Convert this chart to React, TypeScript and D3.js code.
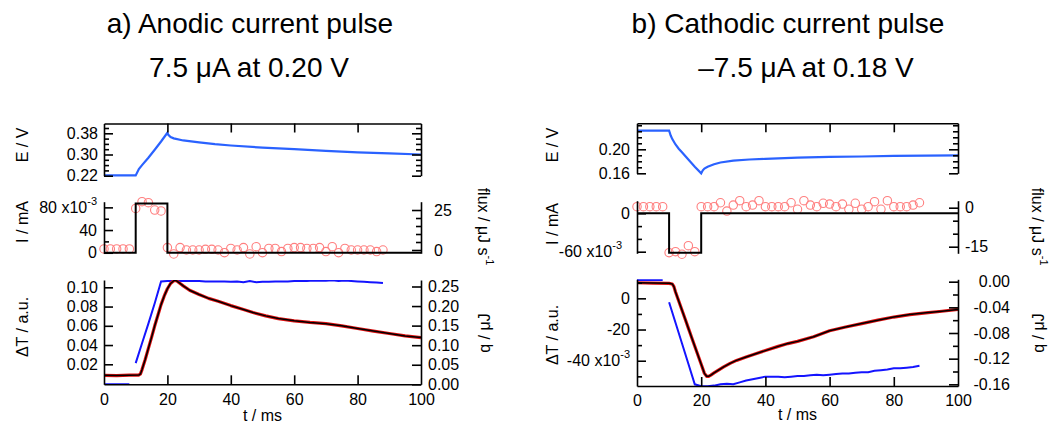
import React, { useEffect, useRef } from "react";
import * as d3 from "d3";

const WIDTH = 1051;
const HEIGHT = 425;
const FONT = "'Liberation Sans', Arial, Helvetica, sans-serif";

// ---------------- texts ----------------
const titleA = "a) Anodic current pulse";
const subtitleA = "7.5 μA at 0.20 V";
const titleB = "b) Cathodic current pulse";
const subtitleB = "–7.5 μA at 0.18 V";
const xLabel = "t / ms";
const eLabel = "E / V";
const iLabel = "I / mA";
const dTLabel = "ΔT / a.u.";
const fluxLabel = "flux / μJ s";
const fluxSup = "-1";
const qLabel = "q / μJ";
const expPrefix = " x10";
const expSup = "-3";

// ---------------- ticks ----------------
const timeTicks = [0, 20, 40, 60, 80, 100];
const timeInnerTicks = [20, 40, 60, 80];

const eTicksA = [0.22, 0.3, 0.38];
const eMinorA = [0.24, 0.26, 0.28, 0.32, 0.34, 0.36, 0.4];
const iTicksA = [0, 40, 80];
const iMinorA = [20, 60];
const fluxTicksA = [0, 25];
const fluxMinorA = [5, 10, 15, 20];
const dTTicksA = [0.02, 0.04, 0.06, 0.08, 0.1];
const qTicksA = [0, 0.05, 0.1, 0.15, 0.2, 0.25];

const eTicksB = [0.16, 0.2];
const eMinorB = [0.17, 0.18, 0.19, 0.21, 0.22, 0.23, 0.24];
const iTicksB = [-60, 0];
const iMinorB = [-40, -20];
const fluxTicksB = [-15, 0];
const fluxMinorB = [-10, -5];
const dTTicksB = [-40, -20, 0];
const dTMinorB = [-50, -30, -10, 10];
const qTicksB = [-0.16, -0.12, -0.08, -0.04, 0];
const qMinorB = [-0.14, -0.1, -0.06, -0.02];

// ---------------- data: panel a (anodic) ----------------
const tEa = [0, 10, 11, 12, 14, 16, 18, 20, 20.3, 21, 22, 25, 30, 35, 40, 50, 60, 70, 80, 90, 100];
const Ea = [0.221, 0.221, 0.245, 0.26, 0.288, 0.318, 0.349, 0.382, 0.374, 0.366, 0.361, 0.353, 0.346, 0.339, 0.334, 0.326, 0.32, 0.314, 0.308, 0.304, 0.3];

const tIa = [0, 10, 20, 100];
const Ia = [0, 87, 0, 0]; // x10^-3 mA

const tFlux = [0, 2, 4, 6, 8, 10, 12, 14, 16, 18, 20, 22, 24, 26, 28, 30, 32, 34, 36, 38, 40, 42, 44, 46, 48, 50, 52, 54, 56, 58, 60, 62, 64, 66, 68, 70, 72, 74, 76, 78, 80, 82, 84, 86, 88];
const fluxA = [0.7, 0.7, 0.7, 0.7, 0.7, 26, 30.2, 29.6, 25, 24.4, 1.5, -2.5, 1.5, 0, 0, 0, 0.4, 0.4, 0, -1.7, 1.0, 0, 1.5, -2.5, 2.1, -1.7, 1.0, 1.0, -1.0, 1.0, 1.5, 1.5, 1.0, 1.0, 1.5, -1.0, 2.1, -1.7, 1.0, 0, 0, 0, 0, -1.0, 0];

const tDa = [0, 4, 8, 11, 11.5, 12, 13, 14, 15, 16, 17, 18, 19, 20, 21, 22, 22.5, 23, 24, 25, 27, 30, 33, 36, 40, 44, 47, 51, 55, 60, 65, 70, 75, 80, 85, 90, 95, 100];
const dTa = [0.0085, 0.0083, 0.0087, 0.0088, 0.01, 0.0145, 0.025, 0.0365, 0.048, 0.06, 0.071, 0.082, 0.091, 0.0985, 0.104, 0.1068, 0.1072, 0.1065, 0.104, 0.1015, 0.097, 0.0925, 0.0885, 0.0855, 0.081, 0.077, 0.0738, 0.0703, 0.0675, 0.0652, 0.0635, 0.0622, 0.06, 0.0572, 0.0545, 0.052, 0.0495, 0.0478];

const tQ = [0, 8, 9, 10, 12, 14, 16, 18, 20, 22, 24, 26, 28, 30, 32, 34, 36, 38, 40, 42, 44, 46, 48, 50, 52, 54, 56, 58, 60, 62, 64, 66, 68, 70, 72, 74, 76, 78, 80, 82, 84, 86, 88];
const qA: (number | null)[] = [0, 0, null, 0.054, 0.105, 0.155, 0.207, 0.263, 0.264, 0.264, 0.264, 0.264, 0.264, 0.264, 0.263, 0.263, 0.263, 0.263, 0.262, 0.263, 0.261, 0.264, 0.261, 0.262, 0.262, 0.263, 0.263, 0.263, 0.264, 0.264, 0.264, 0.265, 0.265, 0.265, 0.266, 0.264, 0.265, 0.264, 0.263, 0.262, 0.261, 0.26, 0.259];

// ---------------- data: panel b (cathodic) ----------------
const tEb = [0, 10, 10.5, 11, 12, 13, 14, 16, 18, 20, 20.5, 21, 22, 24, 26, 30, 35, 40, 50, 60, 70, 80, 90, 100];
const Eb = [0.231, 0.231, 0.223, 0.217, 0.208, 0.201, 0.195, 0.183, 0.171, 0.16, 0.165, 0.168, 0.171, 0.175, 0.178, 0.181, 0.183, 0.184, 0.186, 0.1875, 0.188, 0.189, 0.1895, 0.19];

const tIb = [0, 10, 20, 100];
const Ib = [0, -61.5, 0, 0]; // x10^-3 mA

const fluxB = [0.4, 0.4, 0.4, 0.4, 0.4, -17.3, -16.9, -17.9, -14.6, -16.9, 0.4, 0.4, 0.4, 1.9, -1.3, 1.0, 2.7, 0.4, 1.0, 2.7, 0.4, 0.4, 0.4, 0.4, 1.9, -0.6, 2.7, 1.0, 0.4, 1.7, 1.4, 0.4, 1.4, -0.6, 1.7, -0.6, 0.4, 2.3, -0.6, 2.7, 0.4, 0.4, 0.4, 1.0, 1.9];

const tDb = [0, 5, 10, 11, 11.5, 12, 13, 14, 15, 16, 17, 18, 19, 20, 21, 21.7, 22.3, 23, 24, 25, 27, 29, 31, 34, 37, 40, 44, 47, 50, 55, 60, 65, 70, 75, 80, 85, 90, 95, 100];
const dTb = [10, 9.8, 9.6, 9.2, 7.5, 4.1, -1.7, -7.5, -13.3, -19.1, -24.9, -30.7, -36.5, -42.3, -48.1, -50, -50, -49.2, -47.8, -46.5, -44, -41.7, -39.8, -37.6, -35.5, -33.5, -30.8, -29, -27.6, -24.6, -20.8, -18.4, -16.2, -14, -12, -10.4, -9.3, -8.3, -7.1]; // x10^-3

const qB: (number | null)[] = [0.0025, 0.0025, null, -0.032, -0.064, -0.096, -0.128, -0.16, -0.163, -0.163, -0.162, -0.16, -0.159, -0.16, -0.157, -0.154, -0.152, -0.15, -0.148, -0.148, -0.148, -0.149, -0.148, -0.147, -0.147, -0.146, -0.145, -0.146, -0.145, -0.144, -0.143, -0.143, -0.142, -0.141, -0.141, -0.139, -0.138, -0.137, -0.135, -0.135, -0.134, -0.133, -0.131];

// ---------------- colors ----------------
const COL_E = "#2a62ff";
const COL_Q = "#1414ff";
const COL_FLUX = "#ff7f7f";
const COL_RAW = "#e01010";

const fmt2 = (d: number) => d.toFixed(2);
const fmtInt = (d: number) => String(d);

type Panel = any;

const panelA: Panel = {
  id: "a",
  x0: 104, x1: 421,
  title: titleA, titleX: 250, sub: subtitleA, subX: 249,
  tE: tEa, E: Ea, eRange: [175.7, 123.5], eDomain: [0.22, 0.417], eTicks: eTicksA, eMinor: eMinorA, eFmt: fmt2, ePad: 6,
  tI: tIa, I: Ia, iRange: [253.3, 201.7], iDomain: [-1, 90], iTicks: iTicksA, iMinor: iMinorA, iPad: 7, iExpTick: 80, iExpDx: 0,
  flux: fluxA, fluxDomain: [-2.06, 30.2], fluxTicks: fluxTicksA, fluxMinor: fluxMinorA, fluxPad: 13,
  tD: tDa, D: dTa, dRange: [384.3, 280], dDomain: [-0.0008, 0.1076], dTicks: dTTicksA, dMinor: [], dFmt: fmt2, dPad: 6, dExpTick: null,
  q: qA, qDomain: [0, 0.2666], qTicks: qTicksA, qMinor: [], qPad: 7, qAnchorEnd: null,
  xPad: 9, xLabelY: 421,
  labelLeftX: 22, eLabelY: 145, iLabelY: 222, dLabelY: 327,
  labelRightX: 484, fluxLabelY: 226.5, qLabelY: 333,
};

const panelB: Panel = {
  id: "b",
  x0: 637, x1: 958,
  title: titleB, titleX: 788, sub: subtitleB, subX: 806,
  tE: tEb, E: Eb, eRange: [173.3, 123.3], eDomain: [0.16, 0.2433], eTicks: eTicksB, eMinor: eMinorB, eFmt: fmt2, ePad: 7,
  tI: tIb, I: Ib, iRange: [253.3, 200.7], iDomain: [-62.5, 19.7], iTicks: iTicksB, iMinor: iMinorB, iPad: 7, iExpTick: -60, iExpDx: -8,
  flux: fluxB, fluxDomain: [-17.54, 2.69], fluxTicks: fluxTicksB, fluxMinor: fluxMinorB, fluxPad: 7,
  tD: tDb, D: dTb, dRange: [386, 279.3], dDomain: [-56.2, 12.2], dTicks: dTTicksB, dMinor: dTMinorB, dFmt: fmtInt, dPad: 7, dExpTick: -40,
  q: qB, qDomain: [-0.1626, 0.0037], qTicks: qTicksB, qMinor: qMinorB, qPad: 7, qAnchorEnd: 1010,
  xPad: 9, xLabelY: 420,
  labelLeftX: 552, eLabelY: 145, iLabelY: 224, dLabelY: 335,
  labelRightX: 1038, fluxLabelY: 226.7, qLabelY: 333,
};

function styleAxis(g: any) {
  g.attr("font-family", FONT).attr("font-size", 16);
  g.selectAll("path.domain").attr("stroke", "#000").attr("stroke-width", 1.6);
  g.selectAll(".tick line").attr("stroke", "#000").attr("stroke-width", 1.6);
  g.selectAll(".tick text").attr("fill", "#000");
}

function addExp(g: any, tick: number, dx: number) {
  g.selectAll(".tick text")
    .filter((d: number) => Math.abs(d - tick) < 1e-9)
    .each(function (this: any, d: number) {
      const t = d3.select(this);
      t.text(null);
      if (dx) t.attr("x", +t.attr("x") + dx);
      t.append("tspan").text(String(d) + expPrefix);
      t.append("tspan").attr("font-size", 11).attr("dy", -8).text(expSup);
    });
}

function vLabel(svg: any, x: number, y: number, rot: number, text: string, sup?: string) {
  const t = svg
    .append("text")
    .attr("transform", `translate(${x},${y}) rotate(${rot})`)
    .attr("text-anchor", "middle")
    .attr("font-family", FONT)
    .attr("font-size", 16)
    .attr("fill", "#000");
  t.append("tspan").attr("dy", "0.35em").text(text);
  if (sup) t.append("tspan").attr("font-size", 11).attr("dy", -8).text(sup);
}

function yAxis(svg: any, side: "left" | "right", xPos: number, scale: any, major: number[], minor: number[], fmt: any, pad: number) {
  const maker = side === "left" ? d3.axisLeft : d3.axisRight;
  const gMinor = svg.append("g").attr("transform", `translate(${xPos},0)`);
  gMinor.call(maker(scale).tickValues(minor).tickSizeInner(-5).tickSizeOuter(0).tickFormat(() => ""));
  gMinor.select("path.domain").remove();
  styleAxis(gMinor);
  const g = svg.append("g").attr("transform", `translate(${xPos},0)`);
  g.call(maker(scale).tickValues(major).tickSizeInner(-9).tickSizeOuter(0).tickPadding(pad).tickFormat(fmt));
  styleAxis(g);
  return g;
}

function drawPanel(svg: any, p: Panel) {
  const x = d3.scaleLinear().domain([0, 100]).range([p.x0, p.x1]);
  const yE = d3.scaleLinear().domain(p.eDomain).range(p.eRange);
  const yI = d3.scaleLinear().domain(p.iDomain).range(p.iRange);
  const yF = d3.scaleLinear().domain(p.fluxDomain).range(p.iRange);
  const yD = d3.scaleLinear().domain(p.dDomain).range(p.dRange);
  const yQ = d3.scaleLinear().domain(p.qDomain).range(p.dRange);

  // titles
  svg.append("text").attr("x", p.titleX).attr("y", 33).attr("text-anchor", "middle")
    .attr("font-family", FONT).attr("font-size", 28).attr("fill", "#000").text(p.title);
  svg.append("text").attr("x", p.subX).attr("y", 77).attr("text-anchor", "middle")
    .attr("font-family", FONT).attr("font-size", 28).attr("fill", "#000").text(p.sub);

  // clip for lower panel
  const clipId = `clip-d-${p.id}`;
  svg.append("clipPath").attr("id", clipId).append("rect")
    .attr("x", p.x0).attr("y", p.dRange[1]).attr("width", p.x1 - p.x0).attr("height", p.dRange[0] - p.dRange[1]);

  // ----- E panel -----
  const eLine = d3.line<number>().x((_, i) => x(p.tE[i])).y((d) => yE(d));
  svg.append("path").datum(p.E).attr("d", eLine).attr("fill", "none").attr("stroke", COL_E).attr("stroke-width", 2.2);
  yAxis(svg, "left", p.x0, yE, p.eTicks, p.eMinor, p.eFmt, p.ePad);
  yAxis(svg, "right", p.x1, yE, p.eTicks, p.eMinor, () => "", 0);
  const gTop = svg.append("g").attr("transform", `translate(0,${p.eRange[1]})`);
  gTop.call(d3.axisTop(x).tickValues(timeInnerTicks).tickSizeInner(-9).tickSizeOuter(0).tickFormat(() => ""));
  styleAxis(gTop);

  // ----- I panel -----
  svg.append("g").selectAll("circle").data(p.flux).join("circle")
    .attr("cx", (_: number, i: number) => x(tFlux[i]))
    .attr("cy", (d: number) => yF(d))
    .attr("r", 4.2)
    .attr("fill", "none")
    .attr("stroke", COL_FLUX)
    .attr("stroke-width", 1.1);
  const iLine = d3.line<number>().x((_, i) => x(p.tI[i])).y((d) => yI(d)).curve(d3.curveStepAfter);
  svg.append("path").datum(p.I).attr("d", iLine).attr("fill", "none").attr("stroke", "#000").attr("stroke-width", 2);
  const gI = yAxis(svg, "left", p.x0, yI, p.iTicks, p.iMinor, fmtInt, p.iPad);
  addExp(gI, p.iExpTick, p.iExpDx);
  yAxis(svg, "right", p.x1, yF, p.fluxTicks, p.fluxMinor, fmtInt, p.fluxPad);

  // ----- dT / q panel -----
  const qLine = d3.line<number | null>().defined((d) => d != null).x((_, i) => x(tQ[i])).y((d) => yQ(d as number));
  svg.append("path").datum(p.q).attr("d", qLine).attr("clip-path", `url(#${clipId})`)
    .attr("fill", "none").attr("stroke", COL_Q).attr("stroke-width", 2);
  const dLine = d3.line<number>().x((_, i) => x(p.tD[i])).y((d) => yD(d));
  svg.append("path").datum(p.D).attr("d", dLine).attr("clip-path", `url(#${clipId})`)
    .attr("fill", "none").attr("stroke", COL_RAW).attr("stroke-width", 3.2).attr("stroke-linejoin", "round");
  svg.append("path").datum(p.D).attr("d", dLine).attr("clip-path", `url(#${clipId})`)
    .attr("fill", "none").attr("stroke", "#000").attr("stroke-width", 1.5).attr("stroke-linejoin", "round");
  const gD = yAxis(svg, "left", p.x0, yD, p.dTicks, p.dMinor, p.dFmt, p.dPad);
  if (p.dExpTick != null) addExp(gD, p.dExpTick, 0);
  const gQ = yAxis(svg, "right", p.x1, yQ, p.qTicks, p.qMinor, fmt2, p.qPad);
  if (p.qAnchorEnd != null) {
    gQ.selectAll(".tick text").attr("text-anchor", "end").attr("x", p.qAnchorEnd - p.x1);
  }
  const gB = svg.append("g").attr("transform", `translate(0,${p.dRange[0]})`);
  gB.call(d3.axisBottom(x).tickValues(timeTicks).tickSizeInner(-9).tickSizeOuter(0).tickPadding(p.xPad).tickFormat(fmtInt));
  styleAxis(gB);
  gB.selectAll(".tick line").filter((d: number) => d === 0 || d === 100).remove();

  // ----- axis titles -----
  svg.append("text").attr("x", (p.x0 + p.x1) / 2).attr("y", p.xLabelY).attr("text-anchor", "middle")
    .attr("font-family", FONT).attr("font-size", 16).attr("fill", "#000").text(xLabel);
  vLabel(svg, p.labelLeftX, p.eLabelY, -90, eLabel);
  vLabel(svg, p.labelLeftX, p.iLabelY, -90, iLabel);
  vLabel(svg, p.labelLeftX, p.dLabelY, -90, dTLabel);
  vLabel(svg, p.labelRightX, p.fluxLabelY, 90, fluxLabel, fluxSup);
  vLabel(svg, p.labelRightX, p.qLabelY, -90, qLabel);
}

export default function App() {
  const ref = useRef<SVGSVGElement>(null);
  useEffect(() => {
    const svg = d3.select(ref.current);
    svg.selectAll("*").remove();
    drawPanel(svg, panelA);
    drawPanel(svg, panelB);
  }, []);
  return (
    <svg
      ref={ref}
      width={WIDTH}
      height={HEIGHT}
      style={{ position: "absolute", left: 0, top: 0, background: "#fff", display: "block" }}
    />
  );
}
